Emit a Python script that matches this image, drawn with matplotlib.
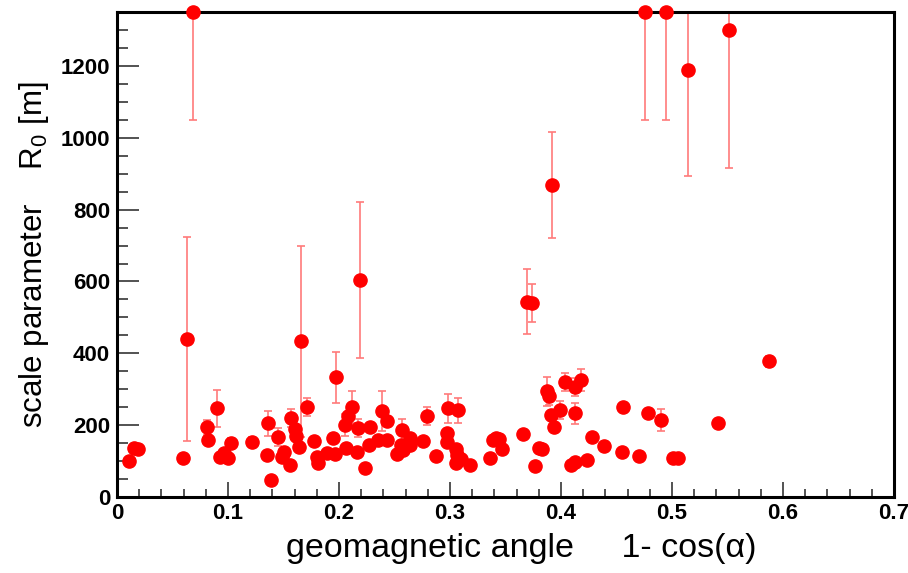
import numpy as np
import matplotlib.pyplot as plt
from matplotlib.ticker import MultipleLocator, FuncFormatter

plt.rcParams['font.family'] = 'Liberation Sans'
plt.rcParams['mathtext.fontset'] = 'custom'
plt.rcParams['mathtext.rm'] = 'Liberation Sans'

# geomagnetic angle 1 - cos(alpha) for each event
geo_angle = [0.011, 0.015, 0.019, 0.059, 0.063, 0.068, 0.081, 0.082, 0.090, 0.093,
             0.096, 0.100, 0.103, 0.122, 0.135, 0.136, 0.139, 0.145, 0.149, 0.150,
             0.156, 0.157, 0.160, 0.161, 0.164, 0.166, 0.171, 0.177, 0.180, 0.181,
             0.189, 0.195, 0.196, 0.197, 0.205, 0.206, 0.208, 0.212, 0.216, 0.217,
             0.219, 0.223, 0.227, 0.228, 0.235, 0.239, 0.243, 0.243, 0.252, 0.256,
             0.257, 0.258, 0.264, 0.264, 0.276, 0.279, 0.287, 0.297, 0.297, 0.298,
             0.305, 0.305, 0.306, 0.307, 0.310, 0.318, 0.336, 0.339, 0.341, 0.344,
             0.347, 0.366, 0.369, 0.374, 0.377, 0.380, 0.383, 0.387, 0.389, 0.391,
             0.392, 0.394, 0.399, 0.404, 0.409, 0.413, 0.413, 0.413, 0.418, 0.423,
             0.428, 0.439, 0.455, 0.456, 0.470, 0.476, 0.478, 0.490, 0.495, 0.501,
             0.505, 0.514, 0.541, 0.551, 0.587]

# fitted scale parameter R0 in metres (values >= 1350 sit on the frame)
r0 = [100, 136, 133, 108, 441, 1350, 194, 158, 247, 111,
      122, 108, 150, 153, 117, 205, 47, 167, 111, 125,
      89, 219, 189, 169, 139, 433, 250, 156, 111, 94,
      122, 164, 119, 333, 200, 136, 225, 250, 125, 192,
      605, 81, 144, 194, 158, 239, 211, 158, 119, 144,
      186, 131, 164, 144, 156, 225, 114, 178, 153, 247,
      133, 94, 117, 242, 106, 89, 108, 158, 164, 161,
      133, 175, 544, 539, 86, 136, 133, 294, 280, 228,
      869, 194, 242, 319, 89, 97, 306, 233, 325, 103,
      167, 142, 125, 250, 114, 1350, 233, 214, 1350, 108,
      108, 1189, 206, 1300, 378]

r0_err = [0, 0, 0, 0, 284, 300, 20, 0, 52, 0,
          0, 0, 15, 15, 0, 35, 0, 25, 0, 0,
          0, 25, 0, 0, 0, 265, 25, 0, 0, 0,
          0, 0, 0, 72, 30, 0, 0, 45, 0, 25,
          217, 0, 0, 0, 0, 55, 0, 0, 0, 0,
          30, 0, 0, 0, 0, 25, 0, 0, 0, 40,
          0, 0, 0, 35, 0, 0, 0, 0, 0, 0,
          0, 0, 90, 53, 0, 0, 0, 40, 25, 0,
          148, 0, 25, 25, 0, 0, 25, 30, 30, 0,
          0, 0, 0, 0, 0, 300, 0, 30, 300, 0,
          0, 295, 0, 383, 15]

fig = plt.figure(figsize=(9.08, 5.73), dpi=100)
ax = fig.add_axes([0.1289, 0.1326, 0.8557, 0.8464])

ax.errorbar(geo_angle, r0, yerr=r0_err, fmt='none', ecolor='#ff7a7a',
            elinewidth=1.2, capsize=3, capthick=1.2, zorder=2)
ax.plot(geo_angle, r0, 'o', color='red', markersize=9.5, clip_on=False, zorder=3)

ax.set_xlim(0, 0.7)
ax.set_ylim(0, 1350)

ax.xaxis.set_major_locator(MultipleLocator(0.1))
ax.xaxis.set_minor_locator(MultipleLocator(0.02))
ax.yaxis.set_major_locator(MultipleLocator(200))
ax.yaxis.set_minor_locator(MultipleLocator(50))
ax.xaxis.set_major_formatter(FuncFormatter(lambda v, p: '0' if abs(v) < 1e-9 else f'{v:.1f}'))

ax.tick_params(which='both', direction='in', top=False, right=False,
               color='#444444', width=1.3, labelsize=16)
ax.tick_params(axis='x', which='major', length=11, pad=4)
ax.tick_params(axis='x', which='minor', length=6)
ax.tick_params(axis='y', which='major', length=16, pad=5)
ax.tick_params(axis='y', which='minor', length=8)
for lab in ax.get_xticklabels() + ax.get_yticklabels():
    lab.set_fontweight('bold')
# keep the last x label inside the canvas
ax.get_xticklabels()[-1].set_horizontalalignment('right')

for sp in ax.spines.values():
    sp.set_linewidth(2.2)

ax.set_xlabel('geomagnetic angle     1- cos(\u03b1)', fontsize=24.5)
ax.set_ylabel('scale parameter    R$_0$ [m]', fontsize=22.5)
ax.xaxis.set_label_coords(0.52, -0.075)
ax.yaxis.set_label_coords(-0.085, 0.5)

plt.savefig('out.png', dpi=100)
